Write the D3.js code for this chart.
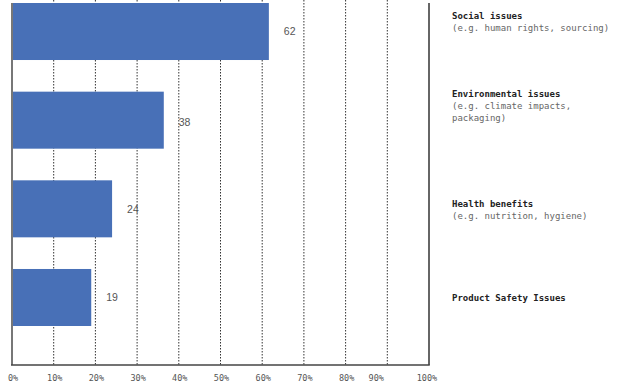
<!DOCTYPE html>
<html>
<head>
<meta charset="utf-8">
<script src="https://cdn.jsdelivr.net/npm/d3@7"></script>
<style>
  body { margin: 0; background: #fff; }
  svg { display: block; }
</style>
</head>
<body>
<script>
// chart values
var categories = ["Social issues", "Environmental issues", "Health benefits", "Product Safety Issues"];
var subLabels = [["(e.g. human rights, sourcing)"], ["(e.g. climate impacts,", "packaging)"], ["(e.g. nutrition, hygiene)"], []];
var values = [61.6, 36.4, 24, 19];       // bar lengths as drawn
var valueLabels = ["62", "38", "24", "19"];
var tickValues = [0, 10, 20, 30, 40, 50, 60, 70, 80, 90, 100];

const barchart = () => {
    var width = 623, height = 389;
    var left = 12, right = 429, bottom = 365;

    var x = d3.scaleLinear().domain([0, 100]).range([left, right]);
    var y = d3.scaleBand().domain(categories).range([-36, bottom])
        .paddingInner(0.357).paddingOuter(0.44);

    var svg = d3.select("body").append("svg")
        .attr("width", width)
        .attr("height", height);

    // dotted grid lines
    svg.append("g")
        .selectAll("line")
        .data(tickValues.filter(function (d) { return d > 0 && d < 100; }))
        .enter().append("line")
        .attr("x1", function (d) { return x(d); })
        .attr("x2", function (d) { return x(d); })
        .attr("y1", 0)
        .attr("y2", bottom)
        .attr("stroke", "#333")
        .attr("stroke-width", 1)
        .attr("stroke-dasharray", "1.5,1.5");

    // bars
    svg.append("g")
        .selectAll("rect")
        .data(categories)
        .enter().append("rect")
        .attr("x", x(0))
        .attr("y", function (d) { return y(d); })
        .attr("width", function (d, i) { return x(values[i]) - x(0); })
        .attr("height", y.bandwidth())
        .attr("fill", "#4870b7");

    // value labels (the 38 sits a little low in the original)
    svg.append("g")
        .selectAll("text")
        .data(categories)
        .enter().append("text")
        .attr("x", function (d, i) { return x(values[i]) + 15; })
        .attr("y", function (d, i) { return y(d) + y.bandwidth() / 2 + (i === 1 ? 2.5 : 0); })
        .attr("dy", "0.35em")
        .attr("font-family", "Liberation Sans, Arial, sans-serif")
        .attr("font-size", 10.5)
        .attr("fill", "#555")
        .text(function (d, i) { return valueLabels[i]; });

    // frame: left axis, right edge, bottom axis
    svg.append("line")
        .attr("x1", x(0)).attr("x2", x(0))
        .attr("y1", 3).attr("y2", bottom)
        .attr("stroke", "#777").attr("stroke-width", 2);
    svg.append("line")
        .attr("x1", x(100)).attr("x2", x(100))
        .attr("y1", 3).attr("y2", bottom)
        .attr("stroke", "#333").attr("stroke-width", 1.5);
    svg.append("line")
        .attr("x1", x(0) - 1).attr("x2", x(100) + 0.75)
        .attr("y1", bottom).attr("y2", bottom)
        .attr("stroke", "#444").attr("stroke-width", 1.5);

    // x tick labels
    svg.append("g")
        .selectAll("text")
        .data(tickValues)
        .enter().append("text")
        .attr("x", function (d) { return x(d); })
        .attr("dx", function (d) { return d === 90 ? -11 : (d === 100 ? -2 : 1); })
        .attr("y", 381)
        .attr("text-anchor", "middle")
        .attr("font-family", "DejaVu Sans Mono, monospace")
        .attr("font-size", 8.5)
        .attr("fill", "#555")
        .text(function (d) { return d + "%"; });

    // category legend on the right
    var lift = [16, 26, 5, 0];
    var leg = svg.append("g")
        .selectAll("g")
        .data(categories)
        .enter().append("g")
        .attr("transform", function (d, i) {
            var cy = y(d) + y.bandwidth() / 2;
            return "translate(452," + (cy - lift[i]) + ")";
        });

    leg.append("text")
        .attr("dy", "0.35em")
        .attr("font-family", "DejaVu Sans Mono, monospace")
        .attr("font-size", 9)
        .attr("font-weight", "bold")
        .attr("fill", "#222")
        .text(function (d) { return d; });

    leg.each(function (d, i) {
        d3.select(this).selectAll("text.sub")
            .data(subLabels[i])
            .enter().append("text")
            .attr("class", "sub")
            .attr("y", function (s, j) { return 12 * (j + 1); })
            .attr("dy", "0.35em")
            .attr("font-family", "DejaVu Sans Mono, monospace")
            .attr("font-size", 9)
            .attr("fill", "#666")
            .text(function (s) { return s; });
    });
}

barchart()
</script>
</body>
</html>
